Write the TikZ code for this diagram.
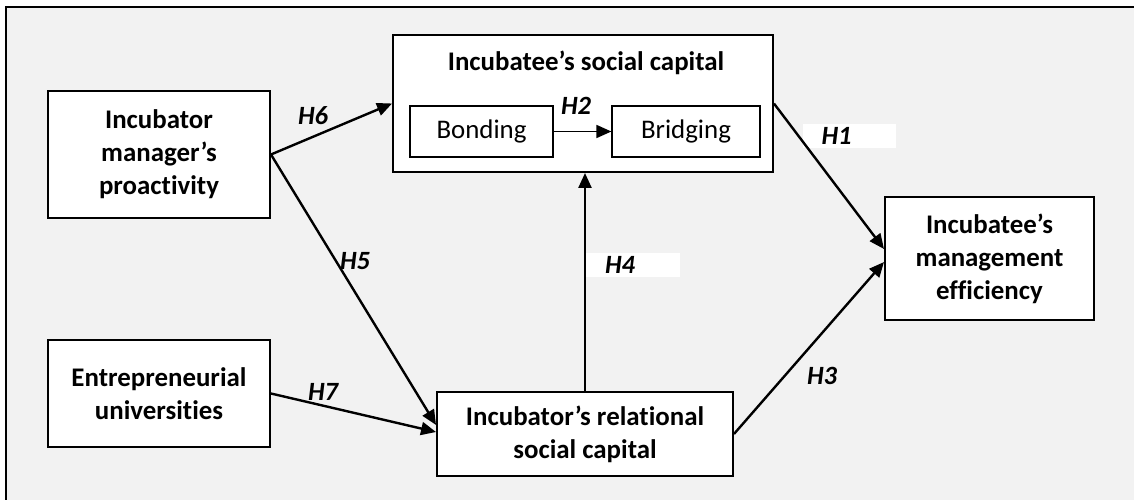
\documentclass[tikz,border=0pt]{standalone}
\usepackage{fontspec}
\setmainfont{Carlito}[Ligatures={TeX,NoCommon}]
\usetikzlibrary{arrows.meta}

\tikzset{
	factor/.style={draw, line width=0.04cm, fill=white, align=center, inner sep=0pt,
		font=\bfseries\fontsize{15.3}{18.8}\selectfont},
	heading/.style={align=center, inner sep=0pt, font=\bfseries\fontsize{15.3}{18.8}\selectfont},
	dimension/.style={draw, line width=0.025cm, fill=white, inner sep=0pt,
		font=\fontsize{15.3}{18}\selectfont},
	hypo/.style={inner sep=0pt, font=\bfseries\itshape\fontsize{15}{18}\selectfont},
	patch/.style={fill=white, text width=1.12cm, inner xsep=0.38cm, minimum height=0.48cm, align=left},
	link/.style={line width=0.048cm, -{Triangle[length=0.3cm, width=0.26cm]}},
}

\begin{document}
\begin{tikzpicture}[x=0.02cm, y=-0.02cm]

	\useasboundingbox (0,0) rectangle (1134,500);

	% grey page with its frame
	\fill[black!5] (6,7.5) rectangle (1134,500);
	\draw[line width=0.04cm] (6,500) -- (6,7.5) -- (1134,7.5);

	% constructs
	\node[factor, minimum width=4.44cm, minimum height=2.54cm] (manager) at (159,154.5) {Incubator\\manager's\\proactivity};
	\node[factor, minimum width=4.44cm, minimum height=2.14cm] (entre) at (159,393.5) {Entrepreneurial\\universities};
	\node[factor, minimum width=7.6cm, minimum height=2.74cm] (social) at (583,103.5) {};
	\node[heading] (socialtitle) at (586,63) {Incubatee's social capital};
	\node[dimension, minimum width=2.86cm, minimum height=1.02cm] (bonding) at (481.5,131.5) {Bonding};
	\node[dimension, minimum width=2.96cm, minimum height=1.02cm] (bridging) at (686,131.5) {Bridging};
	\node[factor, minimum width=5.92cm, minimum height=1.68cm] (relational) at (585,434) {Incubator's relational\\social capital};
	\node[factor, minimum width=4.18cm, minimum height=2.46cm] (management) at (989.5,258.5) {Incubatee's\\management\\efficiency};

	% hypotheses
	\node[hypo] (h6) at (313,116) {H6};
	\node[hypo] (h5) at (355,261) {H5};
	\node[hypo] (h7) at (323,392) {H7};
	\node[hypo] (h2) at (576,106) {H2};
	\node[hypo] (h3) at (822,376) {H3};
	\node[hypo, patch] (h4) at (633,265) {H4};
	\node[hypo, patch] (h1) at (849.5,136) {H1};

	% paths
	\draw[link] (manager.east) -- (social.west);
	\draw[link] (manager.east) -- ([yshift=0.18cm]relational.west);
	\draw[link] (entre.east) -- ([yshift=0.04cm]relational.west);
	\draw[link] (relational.north) -- (relational.north |- social.south);
	\draw[link] (social.east) -- ([yshift=0.19cm]management.west);
	\draw[link] (relational.east) -- ([yshift=-0.07cm]management.west);
	\draw[link, line width=0.035cm] (bonding.east) -- (bridging.west);

\end{tikzpicture}
\end{document}
